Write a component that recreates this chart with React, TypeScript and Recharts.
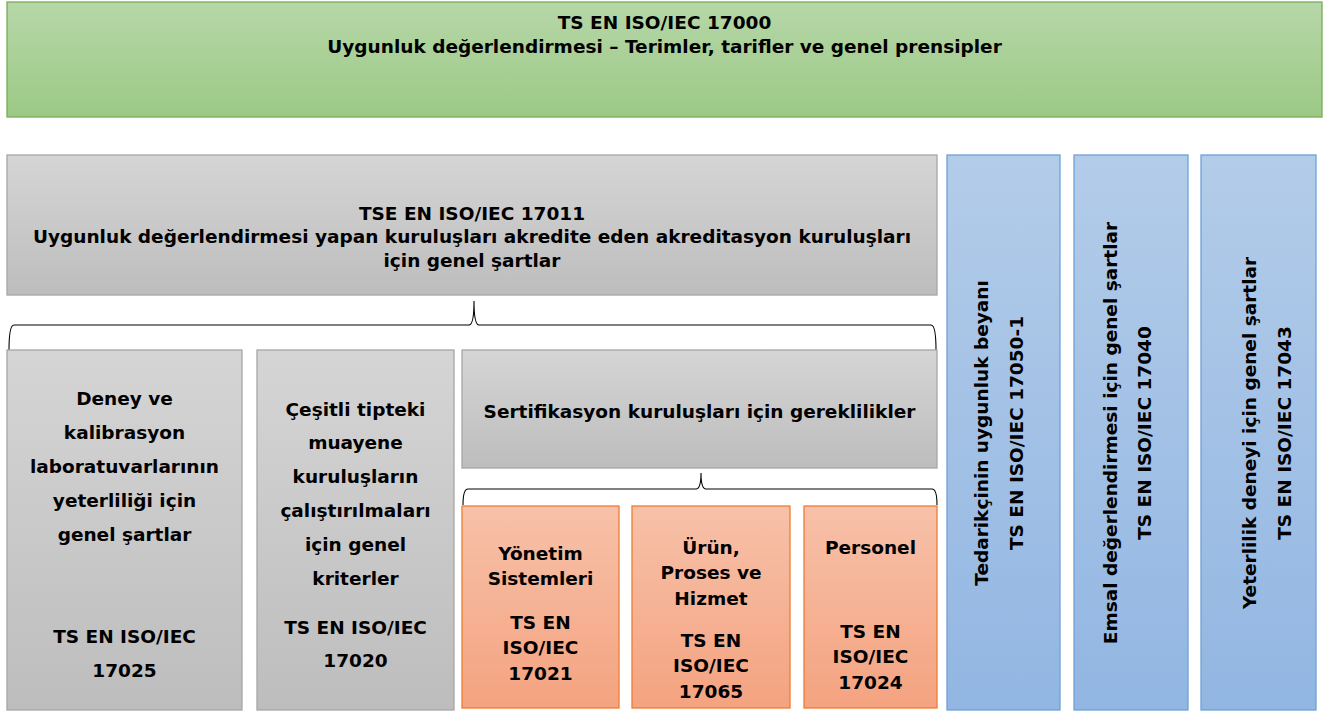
import { ComposedChart, XAxis, YAxis, ReferenceArea } from "recharts";

// text content of the diagram
const standardTitle = ["TS EN ISO/IEC 17000", "Uygunluk değerlendirmesi – Terimler, tarifler ve genel prensipler"];
const accreditationTitle = [
  "TSE EN ISO/IEC 17011",
  "Uygunluk değerlendirmesi yapan kuruluşları akredite eden akreditasyon kuruluşları",
  "için genel şartlar",
];
const labHead = ["Deney ve", "kalibrasyon", "laboratuvarlarının", "yeterliliği için", "genel şartlar"];
const labCode = ["TS EN ISO/IEC", "17025"];
const inspHead = ["Çeşitli tipteki", "muayene", "kuruluşların", "çalıştırılmaları", "için genel", "kriterler"];
const inspCode = ["TS EN ISO/IEC", "17020"];
const certTitle = ["Sertifikasyon kuruluşları için gereklilikler"];
const schemeHeads = [["Yönetim", "Sistemleri"], ["Ürün,", "Proses ve", "Hizmet"], ["Personel"]];
const schemeCodes = [
  ["TS EN", "ISO/IEC", "17021"],
  ["TS EN", "ISO/IEC", "17065"],
  ["TS EN", "ISO/IEC", "17024"],
];
const sideTitles = ["Tedarikçinin uygunluk beyanı", "Emsal değerlendirmesi için genel şartlar", "Yeterlilik deneyi için genel şartlar"];
const sideCodes = ["TS EN ISO/IEC 17050-1", "TS EN ISO/IEC 17040", "TS EN ISO/IEC 17043"];

const W = 1341;
const H = 713;
const FONT = "'DejaVu Sans', Verdana, sans-serif";
const FS = 18.5;

const palette = {
  green: { id: "gGreen", top: "#b6d7a8", bottom: "#9cc985", stroke: "#76ad55" },
  gray: { id: "gGray", top: "#d5d5d5", bottom: "#bdbdbd", stroke: "#a6a6a6" },
  orange: { id: "gOrange", top: "#f7c1a9", bottom: "#f4a380", stroke: "#ed7d31" },
  blue: { id: "gBlue", top: "#b3cce9", bottom: "#92b6e2", stroke: "#6fa0d8" },
};

type Tone = keyof typeof palette;

function textLines(lines: string[], cx: number, y0: number, lh: number) {
  return lines.map((t, i) => (
    <text
      key={i}
      x={cx}
      y={y0 + i * lh}
      textAnchor="middle"
      dominantBaseline="central"
      fontFamily={FONT}
      fontWeight="bold"
      fontSize={FS}
      fill="#000"
    >
      {t}
    </text>
  ));
}

function boxShape(tone: Tone, head: string[], headY: number, lh: number, code?: string[], codeY?: number) {
  const c = palette[tone];
  return (p: any) => {
    const cx = p.x + p.width / 2;
    return (
      <g>
        <rect x={p.x} y={p.y} width={p.width} height={p.height} fill={`url(#${c.id})`} stroke={c.stroke} strokeWidth={1.3} />
        {textLines(head, cx, headY, lh)}
        {code && codeY != null ? textLines(code, cx, codeY, lh) : null}
      </g>
    );
  };
}

function sideShape(title: string, code: string, off1: number, off2: number, cy: number) {
  const c = palette.blue;
  return (p: any) => {
    const cx = p.x + p.width / 2;
    const items = [
      { t: title, x: cx + off1 },
      { t: code, x: cx + off2 },
    ];
    return (
      <g>
        <rect x={p.x} y={p.y} width={p.width} height={p.height} fill={`url(#${c.id})`} stroke={c.stroke} strokeWidth={1.3} />
        {items.map((it, i) => (
          <text
            key={i}
            x={it.x}
            y={cy}
            transform={`rotate(-90 ${it.x} ${cy})`}
            textAnchor="middle"
            dominantBaseline="central"
            fontFamily={FONT}
            fontWeight="bold"
            fontSize={FS}
            fill="#000"
          >
            {it.t}
          </text>
        ))}
      </g>
    );
  };
}

function braceShape(tipX: number, midY: number) {
  return (p: any) => {
    const x0 = p.x;
    const x1 = p.x + p.width;
    const yb = p.y + p.height;
    const yt = p.y;
    const r = 5;
    const d = [
      `M ${x0} ${yb}`,
      `Q ${x0} ${midY} ${x0 + r} ${midY}`,
      `L ${tipX - r} ${midY}`,
      `Q ${tipX} ${midY} ${tipX} ${yt}`,
      `Q ${tipX} ${midY} ${tipX + r} ${midY}`,
      `L ${x1 - r} ${midY}`,
      `Q ${x1} ${midY} ${x1} ${yb}`,
    ].join(" ");
    return <path d={d} fill="none" stroke="#000" strokeWidth={1.1} />;
  };
}

const sideBoxes = [
  { x1: 947, x2: 1060, off1: -22, off2: 13 },
  { x1: 1074, x2: 1188, off1: -21, off2: 13 },
  { x1: 1201, x2: 1316, off1: -9, off2: 26 },
];

const schemeBoxes = [
  { x1: 462, x2: 619, headY: 553, codeY: 622 },
  { x1: 632, x2: 790, headY: 547, codeY: 640 },
  { x1: 804, x2: 937, headY: 547, codeY: 631 },
];

export default function App() {
  return (
    <div style={{ position: "absolute", left: 0, top: 0, width: W, height: H, background: "#fff" }}>
      <ComposedChart width={W} height={H} data={[]} margin={{ top: 0, right: 0, bottom: 0, left: 0 }}>
        <defs>
          {Object.values(palette).map((c) => (
            <linearGradient key={c.id} id={c.id} x1="0" y1="0" x2="0" y2="1">
              <stop offset="0%" stopColor={c.top} />
              <stop offset="100%" stopColor={c.bottom} />
            </linearGradient>
          ))}
        </defs>
        <XAxis type="number" dataKey="x" domain={[0, W]} hide allowDataOverflow />
        <YAxis type="number" dataKey="y" domain={[0, H]} reversed hide allowDataOverflow />

        <ReferenceArea x1={7} x2={1322} y1={2} y2={117} ifOverflow="visible" shape={boxShape("green", standardTitle, 22, 24)} />
        <ReferenceArea x1={7} x2={937} y1={155} y2={295} ifOverflow="visible" shape={boxShape("gray", accreditationTitle, 213, 23.5)} />

        <ReferenceArea x1={9} x2={936} y1={301} y2={350} ifOverflow="visible" shape={braceShape(474, 325)} />

        <ReferenceArea x1={7} x2={242} y1={350} y2={710} ifOverflow="visible" shape={boxShape("gray", labHead, 398, 34.2, labCode, 636)} />
        <ReferenceArea x1={257} x2={454} y1={350} y2={710} ifOverflow="visible" shape={boxShape("gray", inspHead, 409, 33.8, inspCode, 627)} />
        <ReferenceArea x1={462} x2={937} y1={350} y2={468} ifOverflow="visible" shape={boxShape("gray", certTitle, 411, 24)} />

        <ReferenceArea x1={463} x2={937} y1={473} y2={505} ifOverflow="visible" shape={braceShape(701, 489)} />

        {schemeBoxes.map((b, i) => (
          <ReferenceArea
            key={`s${i}`}
            x1={b.x1}
            x2={b.x2}
            y1={506}
            y2={708}
            ifOverflow="visible"
            shape={boxShape("orange", schemeHeads[i], b.headY, 25.8, schemeCodes[i], b.codeY)}
          />
        ))}

        {sideBoxes.map((b, i) => (
          <ReferenceArea
            key={`b${i}`}
            x1={b.x1}
            x2={b.x2}
            y1={155}
            y2={710}
            ifOverflow="visible"
            shape={sideShape(sideTitles[i], sideCodes[i], b.off1, b.off2, 433)}
          />
        ))}
      </ComposedChart>
    </div>
  );
}
